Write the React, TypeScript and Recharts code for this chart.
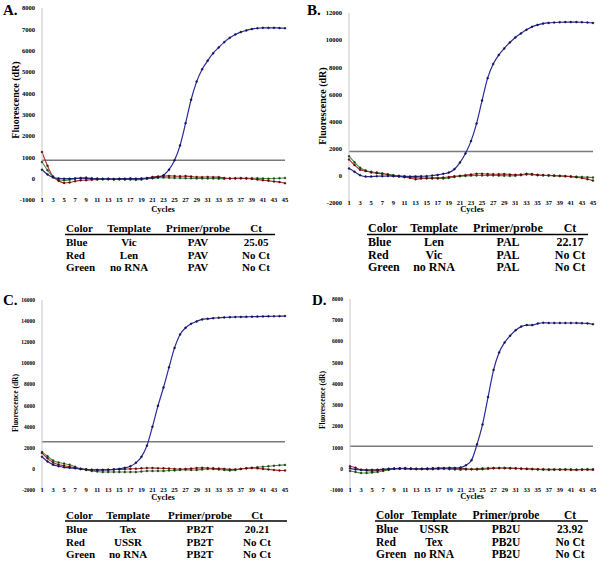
import React from 'react';
import { LineChart, Line, XAxis, YAxis, ReferenceLine } from 'recharts';

// cycle numbers and the odd ones shown on the axis
const cycles = [1, 2, 3, 4, 5, 6, 7, 8, 9, 10, 11, 12, 13, 14, 15, 16, 17, 18, 19, 20, 21, 22, 23, 24, 25, 26, 27, 28, 29, 30, 31, 32, 33, 34, 35, 36, 37, 38, 39, 40, 41, 42, 43, 44, 45];
const cycleTicks = [1, 3, 5, 7, 9, 11, 13, 15, 17, 19, 21, 23, 25, 27, 29, 31, 33, 35, 37, 39, 41, 43, 45];

// Panel A: PAV
const blueA = [420, 200, 60, 10, 0, 0, 10, 20, 10, 0, 0, -10, 0, -10, 0, 0, 10, 0, 10, 20, 40, 70, 160, 420, 860, 1560, 2600, 3700, 4550, 5130, 5530, 5880, 6150, 6400, 6600, 6760, 6870, 6950, 7010, 7050, 7070, 7070, 7070, 7060, 7050];
const redA = [1250, 600, 100, -100, -200, -180, -120, -80, -70, -50, -40, -30, -30, -40, -30, -30, -20, -20, -10, 30, 80, 100, 120, 130, 120, 110, 120, 100, 80, 70, 80, 70, 70, 30, 10, 10, 20, 10, -10, -40, -70, -100, -130, -160, -210];
const greenA = [780, 400, 80, -60, -80, -50, 0, 30, 50, 20, 0, -10, -20, -30, -30, -40, -40, -50, -40, 0, 20, 40, 50, 40, 30, 30, 20, 20, 10, 10, 10, 10, 0, 0, 10, 20, 20, 20, 20, 20, 10, 0, 10, 20, 30];
const thresholdA = 860;
const yTicksA = [-1000, 0, 1000, 2000, 3000, 4000, 5000, 6000, 7000, 8000];

// Panel B: PAL
const blueB = [550, 300, 50, -50, -50, -30, -20, -10, -20, -30, -40, -50, -40, -30, -20, 20, 70, 150, 240, 490, 980, 1650, 2560, 3850, 5560, 7200, 8240, 8900, 9390, 9830, 10200, 10490, 10760, 10980, 11120, 11220, 11270, 11300, 11320, 11330, 11330, 11330, 11320, 11300, 11270];
const redB = [1200, 800, 450, 350, 250, 200, 150, 80, 0, -50, -100, -150, -250, -200, -180, -150, -150, -120, -80, -30, 0, 50, 100, 150, 150, 130, 120, 120, 130, 100, 80, 100, 150, 130, 80, 60, 40, 20, 0, -20, -60, -100, -160, -250, -350];
const greenB = [1450, 1000, 600, 400, 300, 250, 180, 120, 50, 0, -40, -100, -120, -150, -180, -200, -200, -200, -150, -80, -30, 0, 20, 30, 30, 30, 30, 20, 10, 0, 10, 50, 100, 80, 50, 30, 20, 0, -10, -30, -40, -60, -80, -100, -120];
const thresholdB = 1800;
const yTicksB = [-2000, 0, 2000, 4000, 6000, 8000, 10000, 12000];

// Panel C: PB2T
const blueC = [1150, 700, 400, 250, 150, 100, 50, 0, -50, -80, -100, -100, -80, -50, 0, 100, 250, 570, 1140, 2200, 4000, 5970, 7710, 9620, 11460, 12730, 13370, 13750, 13970, 14160, 14220, 14280, 14320, 14350, 14370, 14390, 14400, 14410, 14420, 14430, 14440, 14450, 14460, 14470, 14480];
const redC = [1500, 1000, 600, 400, 300, 200, 100, 0, -50, -100, -100, -100, -80, -60, -50, -30, 0, 20, 50, 80, 80, 60, 50, 30, 0, -20, 0, 30, 80, 100, 80, 50, 30, 0, -50, -50, 0, 50, 80, 50, 0, -50, -100, -150, -150];
const greenC = [1600, 1200, 800, 600, 500, 400, 200, 0, -100, -200, -250, -300, -300, -300, -300, -300, -300, -300, -250, -200, -200, -200, -200, -150, -150, -100, -80, -100, -100, -50, 0, -20, -50, -100, -150, -100, 0, 50, 100, 150, 200, 250, 300, 350, 380];
const thresholdC = 2570;
const yTicksC = [-2000, 0, 2000, 4000, 6000, 8000, 10000, 12000, 14000, 16000];

// Panel D: PB2U
const blueD = [20, -30, -50, -50, -50, -40, -20, 0, 10, 10, 0, 0, -10, -10, 0, 10, 20, 20, 30, 30, 60, 170, 400, 1150, 2090, 3380, 4660, 5480, 5950, 6270, 6530, 6700, 6770, 6770, 6840, 6880, 6870, 6870, 6870, 6870, 6870, 6870, 6860, 6850, 6810];
const redD = [120, 50, -50, -80, -100, -80, -50, -20, 0, 20, 20, 0, -10, 0, 10, 20, 30, 30, 50, 30, 20, 0, -20, -30, -20, 0, 20, 30, 40, 30, 20, 10, 0, -10, -20, -20, -30, -30, -40, -40, -50, -50, -40, -40, -50];
const greenD = [-100, -150, -200, -200, -180, -150, -100, -50, 0, 0, 20, 10, 0, -10, -20, -20, -10, 0, -20, -30, -40, -30, -20, 0, 20, 30, 40, 40, 30, 20, 10, 0, -10, -20, -30, -40, -50, -40, -30, -20, -30, -40, -30, -20, -20];
const thresholdD = 1060;
const yTicksD = [-1000, 0, 1000, 2000, 3000, 4000, 5000, 6000, 7000, 8000];

// tables under each chart
const tableHeader = ['Color', 'Template', 'Primer/probe', 'Ct'];
const tableA = [['Blue', 'Vic', 'PAV', '25.05'], ['Red', 'Len', 'PAV', 'No Ct'], ['Green', 'no RNA', 'PAV', 'No Ct']];
const tableB = [['Blue', 'Len', 'PAL', '22.17'], ['Red', 'Vic', 'PAL', 'No Ct'], ['Green', 'no RNA', 'PAL', 'No Ct']];
const tableC = [['Blue', 'Tex', 'PB2T', '20.21'], ['Red', 'USSR', 'PB2T', 'No Ct'], ['Green', 'no RNA', 'PB2T', 'No Ct']];
const tableD = [['Blue', 'USSR', 'PB2U', '23.92'], ['Red', 'Tex', 'PB2U', 'No Ct'], ['Green', 'no RNA', 'PB2U', 'No Ct']];

const FONT = '"Liberation Serif", "Times New Roman", serif';

const buildRows = (blue: number[], red: number[], green: number[]) =>
  cycles.map((c, i) => ({ cycle: c, blue: blue[i], red: red[i], green: green[i] }));

const XTick = (props: any) => {
  const { x, y, payload } = props;
  return (
    <text x={x} y={y - 1} textAnchor="middle" dominantBaseline="central"
      style={{ fontFamily: FONT, fontWeight: 'bold', fontSize: 6.5, fill: '#000' }}>
      {payload.value}
    </text>
  );
};

interface PanelProps {
  left: number;
  top: number;
  width: number;
  height: number;
  yWidth: number;
  margin: { top: number; right: number; bottom: number; left: number };
  blue: number[];
  red: number[];
  green: number[];
  threshold: number;
  yTicks: number[];
  tickSize: number;
}

const Panel: React.FC<PanelProps> = (p) => {
  const data = buildRows(p.blue, p.red, p.green);
  const dot = (fill: string) => ({ r: 1, fill, stroke: fill, strokeWidth: 0.4 });
  return (
    <div style={{ position: 'absolute', left: p.left, top: p.top }}>
      <LineChart width={p.width} height={p.height} data={data} margin={p.margin}>
        <XAxis type="number" dataKey="cycle" domain={[1, 45]} ticks={cycleTicks} interval={0}
          axisLine={false} tickLine={false} tickSize={0} tickMargin={0} height={10} tick={<XTick />} />
        <YAxis type="number" domain={[p.yTicks[0], p.yTicks[p.yTicks.length - 1]]} ticks={p.yTicks}
          width={p.yWidth} interval={0} axisLine={{ stroke: '#c8c8c8' }} tickLine={false} tickSize={0} tickMargin={7}
          tick={{ fontFamily: FONT, fontWeight: 'bold', fontSize: p.tickSize, fill: '#000' }} />
        <ReferenceLine y={p.threshold} stroke="#7a7a7a" strokeWidth={1.6} />
        <Line type="monotone" dataKey="green" stroke="#3f9a3a" strokeWidth={1.1} dot={dot('#2a3a20')} isAnimationActive={false} />
        <Line type="monotone" dataKey="red" stroke="#b8262a" strokeWidth={1.1} dot={dot('#4a1010')} isAnimationActive={false} />
        <Line type="monotone" dataKey="blue" stroke="#2a2a9a" strokeWidth={1.2} dot={dot('#15154a')} isAnimationActive={false} />
      </LineChart>
    </div>
  );
};

interface TableProps {
  x0: number;
  centers: number[];
  lineEnd: number;
  headerY: number;
  lineY: number;
  rowYs: number[];
  fontSize: number;
  rows: string[][];
}

const ResultTable: React.FC<TableProps> = (t) => {
  const st = { fontFamily: FONT, fontWeight: 'bold' as const, fontSize: t.fontSize, fill: '#000' };
  const cell = (text: string, col: number, y: number, key: string) => (
    <text key={key} x={col === 0 ? t.x0 : t.centers[col - 1]} y={y} textAnchor={col === 0 ? 'start' : 'middle'}
      dominantBaseline="central" style={st}>{text}</text>
  );
  return (
    <g>
      {tableHeader.map((h, i) => cell(h, i, t.headerY, `h${i}`))}
      <line x1={t.x0 - 1} x2={t.lineEnd} y1={t.lineY} y2={t.lineY} stroke="#000" strokeWidth={1.5} />
      {t.rows.map((r, ri) => r.map((c, ci) => cell(c, ci, t.rowYs[ri], `r${ri}${ci}`)))}
    </g>
  );
};

const App: React.FC = () => {
  const titleStyle = (size: number) => ({ fontFamily: FONT, fontWeight: 'bold' as const, fontSize: size, fill: '#000' });
  return (
    <div style={{ position: 'absolute', left: 0, top: 0, width: 600, height: 562, background: '#fff', overflow: 'hidden' }}>
      <Panel left={0} top={0} width={300} height={215} yWidth={42} margin={{ top: 8, right: 15, bottom: 5, left: 0 }}
        blue={blueA} red={redA} green={greenA} threshold={thresholdA} yTicks={yTicksA} tickSize={6.5} />
      <Panel left={300} top={0} width={300} height={215} yWidth={49} margin={{ top: 13, right: 7, bottom: 2, left: 0 }}
        blue={blueB} red={redB} green={greenB} threshold={thresholdB} yTicks={yTicksB} tickSize={6.5} />
      <Panel left={0} top={280} width={300} height={225} yWidth={42} margin={{ top: 20, right: 15, bottom: 5, left: 0 }}
        blue={blueC} red={redC} green={greenC} threshold={thresholdC} yTicks={yTicksC} tickSize={5.5} />
      <Panel left={300} top={280} width={300} height={225} yWidth={50} margin={{ top: 19, right: 7, bottom: 5, left: 0 }}
        blue={blueD} red={redD} green={greenD} threshold={thresholdD} yTicks={yTicksD} tickSize={5.5} />

      <svg width={600} height={562} style={{ position: 'absolute', left: 0, top: 0, pointerEvents: 'none' }}>
        <text x={3} y={10} dominantBaseline="central" style={titleStyle(15)}>A.</text>
        <text x={307} y={10} dominantBaseline="central" style={titleStyle(15)}>B.</text>
        <text x={3} y={300} dominantBaseline="central" style={titleStyle(15)}>C.</text>
        <text x={312} y={300} dominantBaseline="central" style={titleStyle(15)}>D.</text>

        <text transform="translate(15,100) rotate(-90)" textAnchor="middle" dominantBaseline="central" style={titleStyle(10)}>Fluorescence (dR)</text>
        <text transform="translate(322,106) rotate(-90)" textAnchor="middle" dominantBaseline="central" style={titleStyle(10)}>Fluorescence (dR)</text>
        <text transform="translate(15,403) rotate(-90)" textAnchor="middle" dominantBaseline="central" style={titleStyle(7.5)}>Fluorescence (dR)</text>
        <text transform="translate(322,400) rotate(-90)" textAnchor="middle" dominantBaseline="central" style={titleStyle(7.5)}>Fluorescence (dR)</text>

        <text x={163} y={209} textAnchor="middle" dominantBaseline="central" style={titleStyle(8.5)}>Cycles</text>
        <text x={472} y={209} textAnchor="middle" dominantBaseline="central" style={titleStyle(8.5)}>Cycles</text>
        <text x={163} y={497} textAnchor="middle" dominantBaseline="central" style={titleStyle(8.5)}>Cycles</text>
        <text x={472} y={496} textAnchor="middle" dominantBaseline="central" style={titleStyle(8.5)}>Cycles</text>

        <ResultTable x0={66} centers={[129, 198, 256]} lineEnd={275} headerY={228} lineY={234.5} rowYs={[242, 254.5, 267]} fontSize={11} rows={tableA} />
        <ResultTable x0={368} centers={[434, 508, 570]} lineEnd={588} headerY={228} lineY={234.5} rowYs={[242, 254.5, 267]} fontSize={12} rows={tableB} />
        <ResultTable x0={66} centers={[128, 200, 257]} lineEnd={287} headerY={515} lineY={521} rowYs={[529, 541.5, 554]} fontSize={11} rows={tableC} />
        <ResultTable x0={376} centers={[434, 506, 570]} lineEnd={588} headerY={515} lineY={521} rowYs={[529, 541.5, 554]} fontSize={11.5} rows={tableD} />
      </svg>
    </div>
  );
};

export default App;
